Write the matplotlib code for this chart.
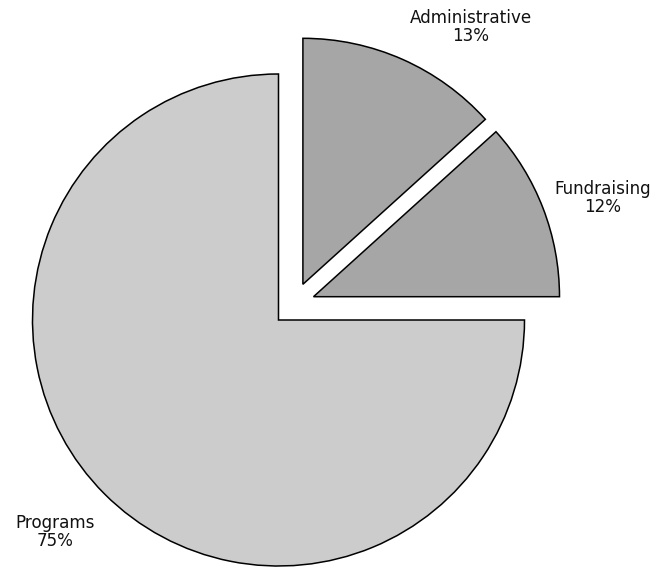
import matplotlib
matplotlib.use("Agg")
import matplotlib.pyplot as plt

# 数据
labels = ["Administrative", "Fundraising", "Programs"]
shares = [13.3, 11.7, 75.0]
pct_text = ["13%", "12%", "75%"]
colors = ["#a6a6a6", "#a6a6a6", "#cccccc"]

W, H = 669, 567
fig = plt.figure(figsize=(W / 100, H / 100), dpi=100)
ax = fig.add_axes([0, 0, 1, 1])

center = (278.5, H - 320)
radius = 246
wedges, _ = ax.pie(shares, colors=colors, startangle=90, counterclock=False,
                   center=center, radius=radius, frame=True,
                   wedgeprops=dict(edgecolor="black", linewidth=1.1))
ax.set_xlim(0, W)
ax.set_ylim(0, H)
ax.set_aspect("equal")
ax.axis("off")

# 偏移（像素）
offsets = [(24.4, 35.7), (35.0, 23.3), (0, 0)]
for w, (dx, dy) in zip(wedges, offsets):
    w.set_center((center[0] + dx, center[1] + dy))

label_pos = [(471, H - 27), (603, H - 198), (55, H - 532)]
for lab, pct, (x, y) in zip(labels, pct_text, label_pos):
    ax.text(x, y, f"{lab}\n{pct}", ha="center", va="center", color="#111111",
            fontsize=12.1, linespacing=0.97, family="DejaVu Sans")

plt.savefig("out.png", dpi=100)
